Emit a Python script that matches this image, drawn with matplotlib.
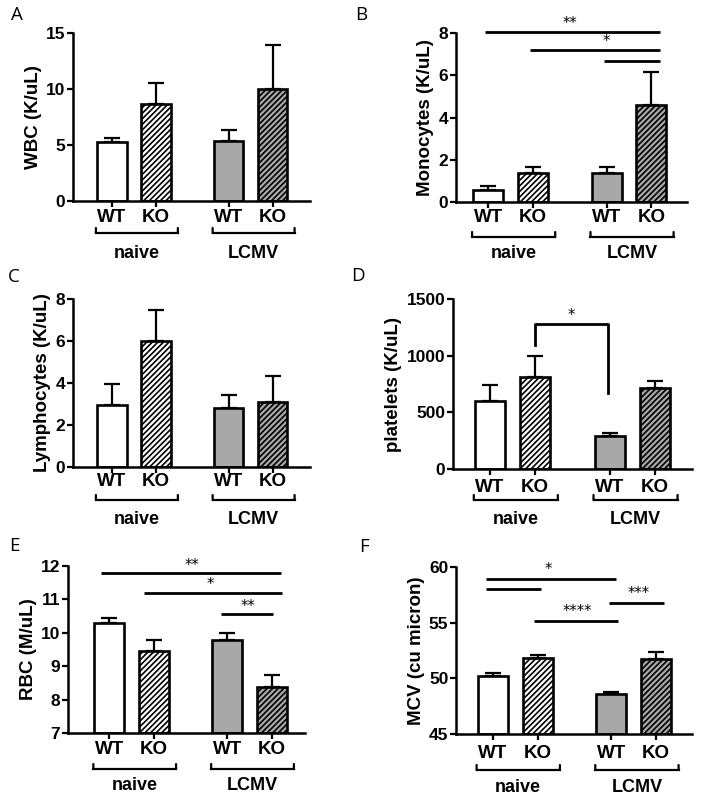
import matplotlib
matplotlib.use("Agg")
import matplotlib.pyplot as plt
from matplotlib.transforms import blended_transform_factory, offset_copy

# ---------------- data ----------------
groups = ["naive", "LCMV"]
genotypes = ["WT", "KO", "WT", "KO"]

wbc_mean = [5.3, 8.7, 5.35, 10.0]
wbc_err = [0.35, 1.85, 0.95, 3.95]

mono_mean = [0.55, 1.37, 1.39, 4.6]
mono_err = [0.22, 0.27, 0.25, 1.55]

lymph_mean = [2.96, 6.02, 2.8, 3.1]
lymph_err = [0.98, 1.46, 0.61, 1.24]

plt_mean = [603, 809, 288, 715]
plt_err = [141, 185, 30, 64]

rbc_mean = [10.28, 9.46, 9.79, 8.38]
rbc_err = [0.17, 0.32, 0.2, 0.35]

mcv_mean = [50.22, 51.84, 48.56, 51.7]
mcv_err = [0.3, 0.28, 0.25, 0.7]

# significance lines: (x_start, x_end, y, label)
sig_B = [(-0.07, 3.84, 8.03, "**"), (0.93, 3.84, 7.18, "*"), (2.6, 3.84, 6.69, "")]
sig_E = [(-0.18, 3.86, 11.78, "**"), (0.78, 3.89, 11.2, "*"), (2.52, 3.69, 10.56, "**")]
sig_F = [(-0.14, 2.75, 58.95, "*"), (-0.14, 1.08, 58.06, ""),
         (2.6, 3.82, 56.8, "***"), (0.93, 2.8, 55.16, "****")]
# star label x positions (data) for each sig line
sig_B_lx = [1.82, 2.64, None]
sig_E_lx = [1.85, 2.26, 3.11]
sig_F_lx = [1.23, None, 3.25, 1.88]
# bracket in D: (x_left, x_right, y_top, y_left_end, y_right_end, label)
bracket_D = (1.0, 2.62, 1279, 1097, 670, "*")

# ---------------- style ----------------
BOLD = dict(family="Liberation Sans", weight="bold")
GREY = "#a8a8a8"
fills = ["white", "white", GREY, GREY]
hatches = [None, "//////", None, "//////"]
positions = [0, 1, 2.65, 3.65]

plt.rcParams["hatch.linewidth"] = 1.2

fig = plt.figure(figsize=(7.01, 7.99), dpi=100)
W, H = 701, 799


def add_axes_px(left, right, top, bottom):
    return fig.add_axes([left / W, 1 - bottom / H, (right - left) / W, (bottom - top) / H])


def panel(ax, means, errs, ylim, yticks, ylabel, xlim, offs):
    t_off, b_off, g_off = offs
    ax.errorbar(positions, means, yerr=[[0] * 4, errs], fmt="none", ecolor="black",
                elinewidth=1.6, capsize=5.8, capthick=1.6, zorder=1)
    for x, m, fc, h in zip(positions, means, fills, hatches):
        ax.bar(x, m - ylim[0], bottom=ylim[0], width=0.67, color=fc, edgecolor="black",
               linewidth=1.9, hatch=h, zorder=2)
    ax.set_ylim(*ylim)
    ax.set_xlim(*xlim)
    ax.set_yticks(yticks)
    ax.set_yticklabels([str(v) for v in yticks], fontsize=12.5, **BOLD)
    ax.set_xticks(positions)
    ax.set_xticklabels([])
    for s in ["top", "right"]:
        ax.spines[s].set_visible(False)
    for s in ["left", "bottom"]:
        ax.spines[s].set_linewidth(1.8)
    ax.tick_params(axis="both", direction="out", length=4, width=1.6, pad=1.5)
    ax.set_ylabel(ylabel, fontsize=13.5, labelpad=3, **BOLD)
    trans = blended_transform_factory(ax.transData, ax.transAxes)
    for x, lab in zip(positions, genotypes):
        ax.text(x, 0, lab, fontsize=13.5, ha="center", va="center",
                transform=offset_copy(trans, fig, y=-t_off, units="dots"), **BOLD)
    for i, g in enumerate(groups):
        x0 = positions[2 * i] - 0.36
        x1 = positions[2 * i + 1] + 0.5
        tr = offset_copy(trans, fig, y=-b_off, units="dots")
        tr2 = offset_copy(trans, fig, y=-b_off + 5, units="dots")
        ax.plot([x0, x1], [0, 0], color="black", lw=1.6, transform=tr, clip_on=False,
                solid_capstyle="projecting")
        for xe in (x0, x1):
            ax.annotate("", xy=(xe, 0), xycoords=tr, xytext=(xe, 0), textcoords=tr2,
                        arrowprops=dict(arrowstyle="-", lw=1.6, color="black",
                                        shrinkA=0, shrinkB=0))
        xc = (positions[2 * i] + positions[2 * i + 1]) / 2 + 0.07
        ax.text(xc, 0, g, fontsize=13, ha="center", va="center",
                transform=offset_copy(trans, fig, y=-g_off, units="dots"), **BOLD)
    return ax


def sig_lines(ax, sigs, lxs, star_off=8):
    for (x0, x1, y, lab), lx in zip(sigs, lxs):
        ax.plot([x0, x1], [y, y], color="black", lw=2.0, clip_on=False, zorder=3,
                solid_capstyle="butt")
        if lab:
            ax.annotate(lab, xy=(lx, y), xytext=(0, star_off * 0.72), textcoords="offset points",
                        ha="center", va="center", fontsize=10.5, family="DejaVu Sans",
                        annotation_clip=False)


axA = add_axes_px(73, 310, 33, 201)
panel(axA, wbc_mean, wbc_err, (0, 15), [0, 5, 10, 15], "WBC (K/uL)", (-0.88, 4.5), (17, 32, 52))

axB = add_axes_px(456, 687, 33, 202)
panel(axB, mono_mean, mono_err, (0, 8), [0, 2, 4, 6, 8], "Monocytes (K/uL)", (-0.72, 4.45), (16, 35, 51))
sig_lines(axB, sig_B, sig_B_lx, 9)

axC = add_axes_px(73, 310, 299, 467)
panel(axC, lymph_mean, lymph_err, (0, 8), [0, 2, 4, 6, 8], "Lymphocytes (K/uL)", (-0.88, 4.5), (15, 33, 53))

axD = add_axes_px(453, 692, 299, 469)
panel(axD, plt_mean, plt_err, (0, 1500), [0, 500, 1000, 1500], "platelets (K/uL)", (-0.82, 4.47), (18, 31, 51))
xl, xr, yt, yl, yr, lab = bracket_D
axD.plot([xl, xl, xr, xr], [yl, yt, yt, yr], color="black", lw=2.0, zorder=3)
axD.annotate(lab, xy=((xl + xr) / 2 - 0.01, yt), xytext=(0, 9 * 0.72), textcoords="offset points",
             ha="center", va="center", fontsize=10.5, family="DejaVu Sans")

axE = add_axes_px(68, 305, 566, 733)
panel(axE, rbc_mean, rbc_err, (7, 12), [7, 8, 9, 10, 11, 12], "RBC (M/uL)", (-0.93, 4.4), (17, 36, 52))
sig_lines(axE, sig_E, sig_E_lx, 8)

axF = add_axes_px(456, 692, 567, 734)
panel(axF, mcv_mean, mcv_err, (45, 60), [45, 50, 55, 60], "MCV (cu micron)", (-0.82, 4.45), (19, 36, 54))
sig_lines(axF, sig_F, sig_F_lx, 9)

# panel letters
for lab, (px, py) in zip("ABCDEF", [(17, 15), (361, 15), (14, 277), (358, 276), (14, 546), (364, 547)]):
    fig.text(px / W, 1 - py / H, lab, fontsize=13.5, family="Open Sans",
             ha="center", va="center")

fig.savefig("out.png", dpi=100)
